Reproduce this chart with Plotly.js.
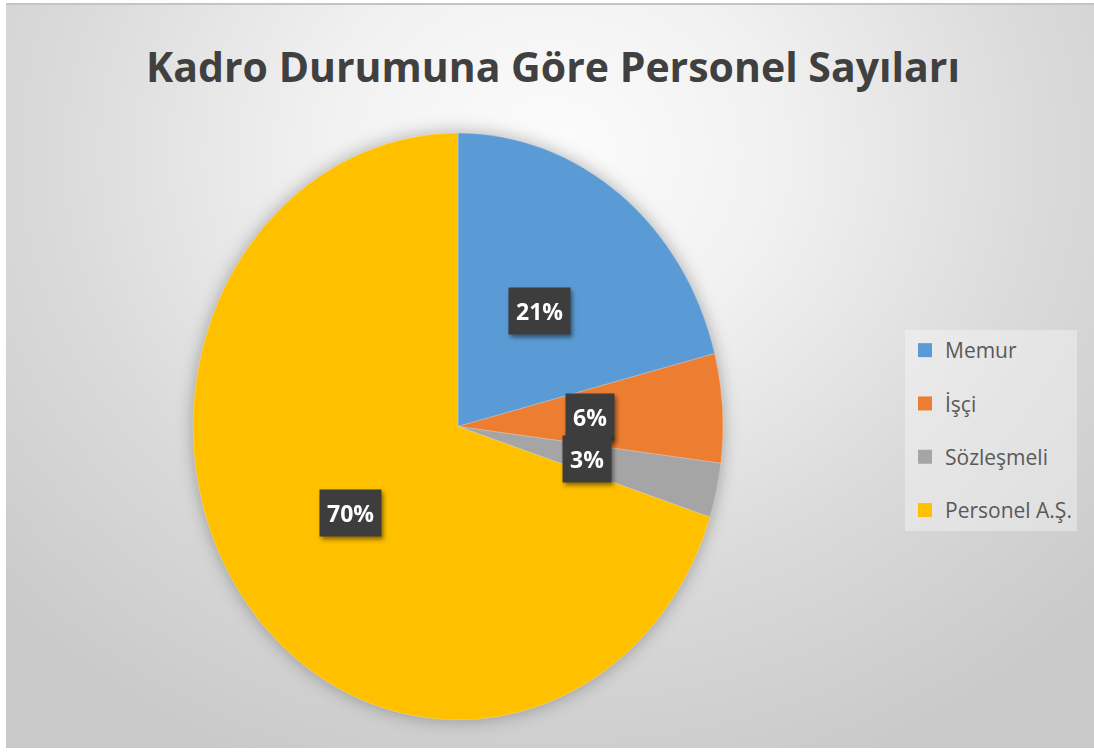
<!DOCTYPE html>
<html><head><meta charset="utf-8">
<script src="https://cdn.plot.ly/plotly-3.0.1.min.js"></script>
<style>
html,body{margin:0;padding:0;background:#fff;width:1094px;height:753px;overflow:hidden}
#bg{position:absolute;left:6px;top:3px;width:1088px;height:745px;background:radial-gradient(ellipse 70% 90% at 50% 20%, #fcfcfc 0%, #f1f1f1 30%, #dadada 65%, #c9c9c9 100%);border-top:2px solid #c4c4c4;box-sizing:border-box}
#chart{position:absolute;left:0;top:0;width:1094px;height:753px}
</style></head><body>
<div id="bg"></div><div id="chart"></div>
<script>
const categories = ['Memur', 'İşçi', 'Sözleşmeli', 'Personel A.Ş.'];
const values = [21, 6, 3, 70];
const colors = ['#5B9BD5', '#ED7D31', '#A5A5A5', '#FFC000'];
const chartTitle = 'Kadro Durumuna Göre Personel Sayıları';

const W = 1094, H = 753;
const cx = 458, cy = 426.5, rx = 265, ry = 293.5;
const pieDomX = [(cx - rx) / W, (cx + rx) / W];
const pieDomY = [(H - cy - rx) / H, (H - cy + rx) / H];
const ellDomY = [(H - cy - ry) / H, (H - cy + ry) / H];

const total = values.reduce((a, b) => a + b, 0);
let cum = 0;
const annotations = values.map((v) => {
  const mid = (cum + v / 2) / total * 2 * Math.PI;
  cum += v;
  return {
    xref: 'x', yref: 'y', x: 0.5 * Math.sin(mid), y: 0.5 * Math.cos(mid),
    text: '<b>' + Math.round(v / total * 100) + '%</b>', showarrow: false,
    bgcolor: '#3d3d3d', borderpad: 7,
    font: {family: 'Open Sans', size: 23, color: '#ffffff'}
  };
});

const pie = {
  type: 'pie', labels: categories, values: values, sort: false,
  direction: 'clockwise', rotation: 0, textinfo: 'none',
  marker: {colors: colors, line: {color: 'rgba(255,255,255,0.35)', width: 0.6}},
  domain: {x: pieDomX, y: pieDomY}, showlegend: false, hoverinfo: 'label+percent'
};
const legendTraces = categories.map((c, i) => ({
  type: 'scatter', mode: 'markers', x: [null], y: [null], name: c,
  legendgroup: 'g' + i, marker: {symbol: 'square', size: 14, color: colors[i]},
  hoverinfo: 'skip'
}));

const layout = {
  width: W, height: H,
  margin: {l: 0, r: 0, t: 0, b: 0},
  paper_bgcolor: 'rgba(0,0,0,0)', plot_bgcolor: 'rgba(0,0,0,0)',
  title: {text: chartTitle, x: 553 / W, xanchor: 'center', y: 1 - 68 / H, yanchor: 'middle',
    font: {family: 'Open Sans', size: 41, color: '#404040', weight: 700}},
  xaxis: {domain: pieDomX, range: [-1, 1], visible: false, fixedrange: true},
  yaxis: {domain: ellDomY, range: [-1, 1], visible: false, fixedrange: true},
  showlegend: true,
  legend: {x: 905 / W, xanchor: 'left', y: 1 - 330 / H, yanchor: 'top',
    bgcolor: 'rgba(255,255,255,0.35)', borderwidth: 0, tracegroupgap: 23,
    traceorder: 'grouped',
    font: {family: 'Open Sans', size: 21, color: '#595959'}},
  annotations: annotations
};

Plotly.newPlot('chart', [pie].concat(legendTraces), layout, {displayModeBar: false, staticPlot: true}).then(gd => {
  const pl = gd.querySelector('.pielayer');
  if (pl) {
    pl.setAttribute('transform', 'translate(0,' + cy + ') scale(1,' + (ry / rx) + ') translate(0,' + (-cy) + ')');
    pl.style.filter = 'drop-shadow(0 0 8px rgba(0,0,0,0.3))';
  }
  gd.querySelectorAll('.annotation').forEach(a => a.style.filter = 'drop-shadow(2px 3px 2px rgba(0,0,0,0.45))');
});
</script>
</body></html>
